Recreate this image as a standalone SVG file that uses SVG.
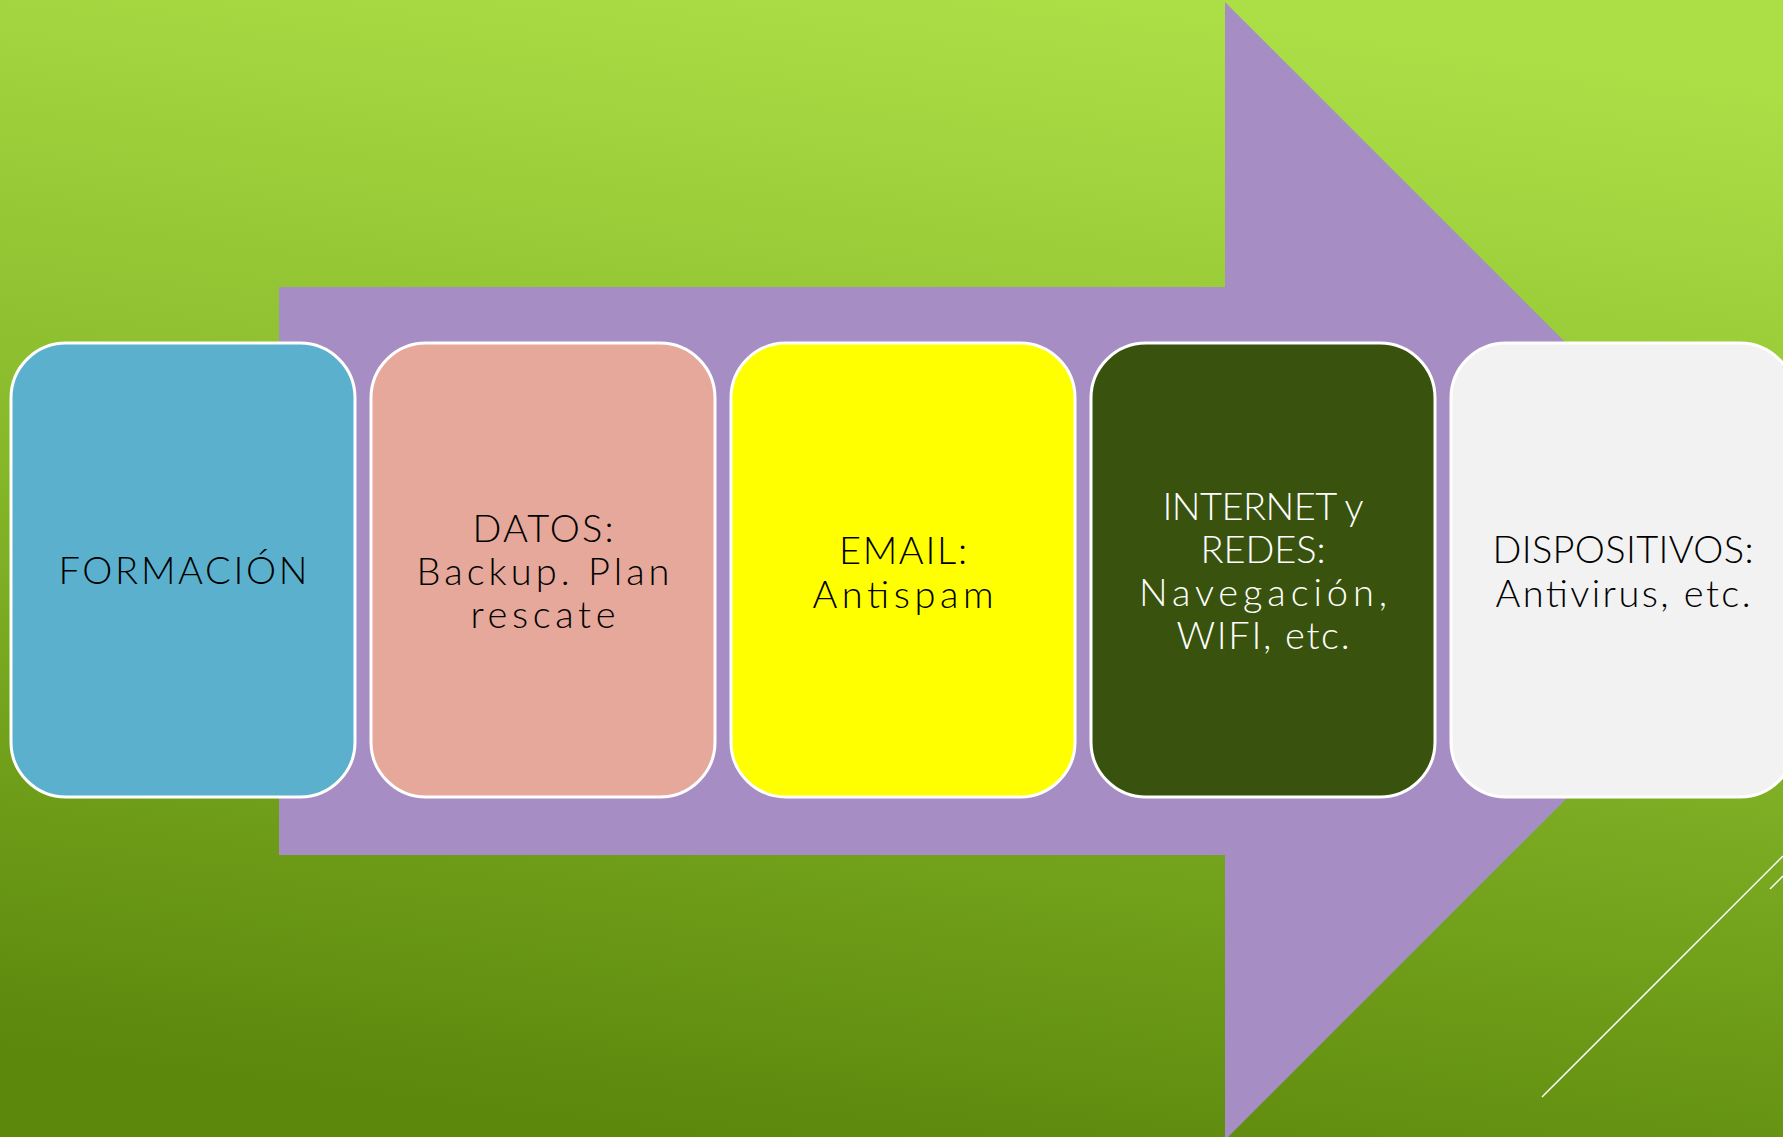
<svg xmlns="http://www.w3.org/2000/svg" width="1783" height="1137" viewBox="0 0 1783 1137">
<defs>
<linearGradient id="bg" x1="0.6" y1="0" x2="0.4" y2="1">
<stop offset="0" stop-color="#ACDF46"/>
<stop offset="0.5" stop-color="#86B82A"/>
<stop offset="1" stop-color="#5C880C"/>
</linearGradient>
<style>
.node rect{stroke:#FFFFFF;stroke-width:3}
.node text{font-family:"Lato","DejaVu Sans",sans-serif;font-weight:300;font-size:38px;text-anchor:middle;fill:#000}
.node text.w{fill:#FFFFFF}
</style>
</defs>
<rect x="0" y="0" width="1783" height="1137" fill="url(#bg)"/>
<g id="arrow">
<polygon points="279,287 1225,287 1225,2 1794,571 1225,1140 1225,855 279,855" fill="#A68DC3"/>
</g>
<g id="decor" stroke="#FFFFFF" stroke-width="1.5" fill="none">
<line x1="1542" y1="1097" x2="1783" y2="856"/>
<line x1="1770" y1="889" x2="1783" y2="876"/>
</g>
<g id="connectors"></g>
<g id="node1" class="node">
<rect x="11" y="343" width="344" height="454" rx="55" ry="55" fill="#5BB1CD"/>
<text x="183" y="584" textLength="249" lengthAdjust="spacing">FORMACIÓN</text>
</g>
<g id="node2" class="node">
<rect x="371" y="343" width="344" height="454" rx="55" ry="55" fill="#E5A89A"/>
<text x="543" y="542" textLength="141" lengthAdjust="spacing">DATOS:</text>
<text x="543" y="585" textLength="253" lengthAdjust="spacing">Backup. Plan</text>
<text x="543" y="628" textLength="145" lengthAdjust="spacing">rescate</text>
</g>
<g id="node3" class="node">
<rect x="731" y="343" width="344" height="454" rx="55" ry="55" fill="#FFFF00"/>
<text x="903" y="564" textLength="128" lengthAdjust="spacing">EMAIL:</text>
<text x="903" y="608" textLength="181" lengthAdjust="spacing">Antispam</text>
</g>
<g id="node4" class="node">
<rect x="1091" y="343" width="344" height="454" rx="55" ry="55" fill="#39530E"/>
<text class="w" x="1263" y="520" textLength="201" lengthAdjust="spacing">INTERNET y</text>
<text class="w" x="1263" y="563" textLength="125" lengthAdjust="spacing">REDES:</text>
<text class="w" x="1263" y="606" textLength="248" lengthAdjust="spacing">Navegación,</text>
<text class="w" x="1263" y="649" textLength="173" lengthAdjust="spacing">WIFI, etc.</text>
</g>
<g id="node5" class="node">
<rect x="1451" y="343" width="344" height="454" rx="55" ry="55" fill="#F2F2F2"/>
<text x="1623" y="563" textLength="261" lengthAdjust="spacing">DISPOSITIVOS:</text>
<text x="1623" y="607" textLength="255" lengthAdjust="spacing">Antivirus, etc.</text>
</g>
</svg>
